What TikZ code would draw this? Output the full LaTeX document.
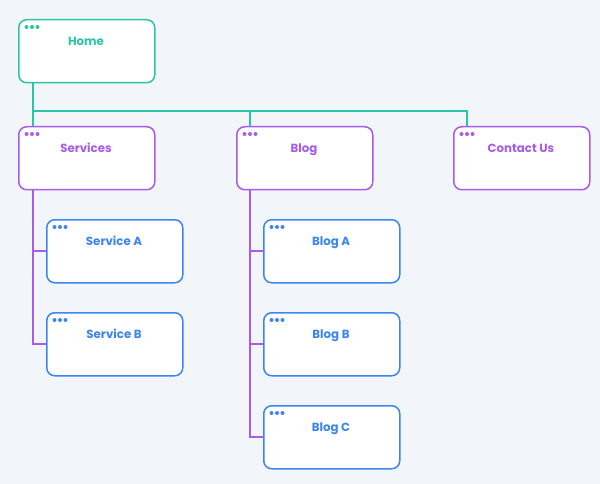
\documentclass[tikz,border=0pt]{standalone}
\usepackage{fontspec}
\setmainfont{Poppins}
\definecolor{bg}{HTML}{F2F5FA}
\definecolor{teal}{HTML}{2CC5A4}
\definecolor{purp}{HTML}{A75CEB}
\definecolor{blu}{HTML}{3D86F0}
\tikzset{
  page/.style={draw=#1, line width=1.5pt, fill=white, rounded corners=8pt, minimum width=136pt, minimum height=63pt, inner sep=0pt, anchor=north west},
  lbl/.style={text=#1, font=\fontsize{11.8}{14}\selectfont\bfseries, text height=8.5pt, text depth=0pt, inner sep=0pt, anchor=base},
  conn/.style={draw=#1, line width=1.5pt},
}
\newcommand{\pagebox}[5]{% name, x, y, color, label
  \node[page=#4] (#1) at (#2,#3) {};
  \node[lbl=#4] (#1t) at ([xshift=68pt,yshift=-26.5pt]#1.north west) {#5};
  \foreach \d in {0,5.5,11} \fill[#4] ([xshift=8.5pt+\d pt,yshift=-8pt]#1.north west) circle (2pt);
}
\begin{document}
\begin{tikzpicture}[x=1pt,y=-1pt]
\fill[bg] (0,0) rectangle (600,484);
\useasboundingbox (0,0) rectangle (600,484);
\coordinate (hj) at (33,111);
\coordinate (bj) at (250,111);
\coordinate (cj) at (467,111);
\coordinate (s1) at (33,251);
\coordinate (s2) at (33,344);
\coordinate (b1) at (250,251);
\coordinate (b2) at (250,344);
\coordinate (b3) at (250,437);
\pagebox{home}{18}{19}{teal}{Home}
\pagebox{serv}{18}{126}{purp}{Services}
\pagebox{blog}{236}{126}{purp}{Blog}
\pagebox{cont}{453}{126}{purp}{Contact Us}
\pagebox{sa}{46}{219}{blu}{Service A}
\pagebox{sb}{46}{312}{blu}{Service B}
\pagebox{ba}{263}{219}{blu}{Blog A}
\pagebox{bb}{263}{312}{blu}{Blog B}
\pagebox{bc}{263}{405}{blu}{Blog C}
\draw[conn=teal] (home.south -| hj) -- (hj) -- (cj) -- (cj |- cont.north);
\draw[conn=teal] (hj) -- (hj |- serv.north);
\draw[conn=teal] (bj) -- (bj |- blog.north);
\draw[conn=purp] (serv.south -| s2) -- (s2) -- (sb.west |- s2);
\draw[conn=purp] (s1) -- (sa.west |- s1);
\draw[conn=purp] (blog.south -| b3) -- (b3) -- (bc.west |- b3);
\draw[conn=purp] (b1) -- (ba.west |- b1);
\draw[conn=purp] (b2) -- (bb.west |- b2);
\end{tikzpicture}
\end{document}
